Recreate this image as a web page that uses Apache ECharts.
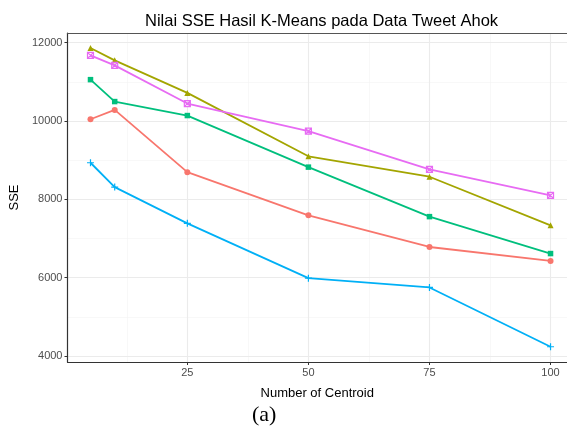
<!DOCTYPE html>
<html>
<head>
<meta charset="utf-8">
<script src="https://cdn.jsdelivr.net/npm/echarts@6/dist/echarts.min.js"></script>
<style>
html,body{margin:0;padding:0;background:#fff;}
#c{width:567px;height:430px;}
</style>
</head>
<body>
<div id="c"></div>
<script>
const centroids = [5, 10, 25, 50, 75, 100];
const seriesRed   = [10046, 10285, 8695, 7592, 6784, 6428];
const seriesOlive = [11865, 11550, 10718, 9100, 8578, 7337];
const seriesGreen = [11057, 10497, 10140, 8823, 7559, 6616];
const seriesBlue  = [8935, 8313, 7388, 5987, 5750, 4237];
const seriesPink  = [11677, 11422, 10446, 9740, 8764, 8102];
const xTicks = [25, 50, 75, 100];
const xMinor = [12.5, 37.5, 62.5, 87.5];
const yTicks = [4000, 6000, 8000, 10000, 12000];
const yMinor = [5000, 7000, 9000, 11000];

const FONT = 'Liberation Sans';
const pair = v => centroids.map((c, i) => [c, v[i]]);

function mk(name, data, color, symbol, size, filled) {
  return {
    name: name, type: 'line', data: pair(data),
    symbol: symbol, symbolSize: size, symbolKeepAspect: true,
    lineStyle: { color: color, width: 1.8 },
    itemStyle: filled ? { color: color } : { color: 'rgba(0,0,0,0)', borderColor: color, borderWidth: 1.2 },
    emphasis: { disabled: true },
    zlevel: 1, z: 3
  };
}

const gridLines = {
  type: 'line', data: [], silent: true, symbol: 'none',
  markLine: {
    silent: true, symbol: 'none', label: { show: false }, animation: false,
    data: xMinor.map(v => ({ xAxis: v, lineStyle: { color: '#f3f3f3', width: 0.6, type: 'solid' } }))
      .concat(yMinor.map(v => ({ yAxis: v, lineStyle: { color: '#f3f3f3', width: 0.6, type: 'solid' } })))
      .concat(xTicks.map(v => ({ xAxis: v, lineStyle: { color: '#ebebeb', width: 1.1, type: 'solid' } })))
      .concat(yTicks.map(v => ({ yAxis: v, lineStyle: { color: '#ebebeb', width: 1.1, type: 'solid' } })))
  },
  zlevel: 0, z: 1
};

const chart = echarts.init(document.getElementById('c'), null, { renderer: 'canvas' });
chart.setOption({
  animation: false,
  backgroundColor: '#ffffff',
  title: {
    text: 'Nilai SSE Hasil K-Means pada Data Tweet Ahok',
    left: 140, top: 8,
    textStyle: { fontFamily: FONT, fontSize: 16.5, fontWeight: 'normal', color: '#000' }
  },
  graphic: [
    { type: 'text', x: 252, y: 404, style: { text: '(a)', font: '22px "Liberation Serif"', fill: '#000' } }
  ],
  grid: { left: 66.7, right: 0, top: 33, bottom: 68, show: false },
  xAxis: [{
    type: 'value', min: 0.25, max: 103.4,
    name: 'Number of Centroid', nameLocation: 'middle', nameGap: 25,
    nameTextStyle: { fontFamily: FONT, fontSize: 13, color: '#000' },
    axisLine: { show: true, onZero: false, lineStyle: { color: '#333', width: 1.2 } },
    axisTick: { show: true, length: 3, customValues: xTicks, lineStyle: { color: '#333' } },
    axisLabel: { customValues: xTicks, fontFamily: FONT, fontSize: 11, color: '#4d4d4d', margin: 5,
      formatter: v => String(v) },
    splitLine: { show: false }, zlevel: 1
  }, {
    type: 'value', position: 'top', min: 0.25, max: 103.4,
    axisLine: { show: true, onZero: false, lineStyle: { color: '#555', width: 1.2 } },
    axisTick: { show: false }, axisLabel: { show: false }, splitLine: { show: false }, zlevel: 1
  }],
  yAxis: {
    type: 'value', min: 3847, max: 12248,
    name: 'SSE', nameLocation: 'middle', nameGap: 43, nameRotate: 90,
    nameTextStyle: { fontFamily: FONT, fontSize: 13, color: '#000' },
    axisLine: { show: true, onZero: false, lineStyle: { color: '#333', width: 1.2 } },
    axisTick: { show: true, length: 3, customValues: yTicks, lineStyle: { color: '#333' } },
    axisLabel: { customValues: yTicks, fontFamily: FONT, fontSize: 11, color: '#4d4d4d', margin: 5,
      formatter: v => String(v) },
    splitLine: { show: false }, zlevel: 1
  },
  series: [
    gridLines,
    mk('A', seriesRed,   '#F8766D', 'circle', 6, true),
    mk('B', seriesOlive, '#A3A500', 'triangle', 6, true),
    mk('C', seriesGreen, '#00BF7D', 'rect', 5.5, true),
    mk('D', seriesBlue,  '#00B0F6', 'path://M5,0V10M0,5H10', 7, false),
    mk('E', seriesPink,  '#E76BF3', 'path://M0,0H10V10H0ZM0,0L10,10M10,0L0,10', 6, false)
  ]
});
</script>
</body>
</html>
